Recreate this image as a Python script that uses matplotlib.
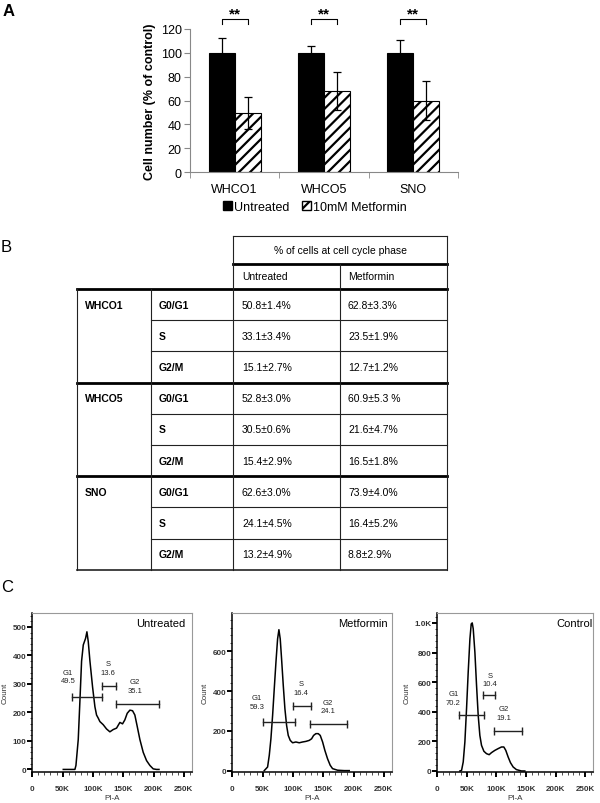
import matplotlib.pyplot as plt
from matplotlib.patches import Patch
from matplotlib.ticker import MultipleLocator, FixedLocator, FuncFormatter
import numpy as np

plt.rcParams['font.family'] = ['Liberation Sans', 'DejaVu Sans']
plt.rcParams['hatch.linewidth'] = 1.6

W, H = 600, 804


def box(l, t, r, b):
    # pixel box -> figure fraction
    return [l / W, 1 - b / H, (r - l) / W, (b - t) / H]


# ---- panel A data
cell_lines = ['WHCO1', 'WHCO5', 'SNO']
untreated = [100, 100, 100]
untreated_err = [12.5, 6, 11]
metformin = [49.5, 68, 60]
metformin_err = [13.5, 16, 16]

# ---- panel B data
phases = ['G0/G1', 'S', 'G2/M']
tab_untreated = [['50.8±1.4%', '33.1±3.4%', '15.1±2.7%'],
                 ['52.8±3.0%', '30.5±0.6%', '15.4±2.9%'],
                 ['62.6±3.0%', '24.1±4.5%', '13.2±4.9%']]
tab_metformin = [['62.8±3.3%', '23.5±1.9%', '12.7±1.2%'],
                 ['60.9±5.3 %', '21.6±4.7%', '16.5±1.8%'],
                 ['73.9±4.0%', '16.4±5.2%', '8.8±2.9%']]

# ---- panel C data (PI-A in thousands, counts)
pi_untr = [51.1, 70.3, 72.0, 75.8, 78.6, 81.3, 84.1, 87.9, 90.1, 92.3, 95.1, 99.5,
           103.3, 106.0, 108.8, 111.5, 117.0, 122.5, 128.0, 133.5, 139.0, 144.5,
           148.9, 152.7, 156.6, 161.0, 165.4, 169.2, 173.1, 177.5, 183.0, 188.5,
           194.0, 199.5, 204.9, 209.0]
cnt_untr = [0, 0, 14, 105, 243, 380, 437, 460, 483, 449, 380, 288, 220, 191, 180,
            168, 157, 142, 132, 140, 145, 165, 160, 174, 197, 208, 206, 191, 151,
            105, 60, 31, 14, 2, 0, 0]
pi_metf = [52.7, 58.2, 61.0, 63.7, 66.5, 69.2, 72.0, 74.7, 76.9, 79.1, 81.3, 84.1,
           86.8, 89.6, 92.3, 95.6, 99.5, 104.9, 110.4, 115.9, 121.4, 126.9, 130.8,
           134.1, 137.9, 141.8, 145.1, 149.0, 152.7, 157.1, 161.5, 165.4, 173.6,
           184.6, 192.9]
cnt_metf = [0, 18, 77, 160, 278, 411, 545, 662, 709, 662, 562, 428, 311, 227, 177,
            152, 140, 144, 140, 144, 147, 152, 160, 177, 186, 186, 177, 144, 102,
            60, 27, 10, 2, 0, 0]
pi_ctrl = [38.2, 41.0, 43.8, 46.6, 49.4, 52.2, 55.1, 57.3, 59.0, 60.7, 63.5, 66.3,
           69.1, 71.9, 74.7, 78.7, 83.1, 87.6, 91.6, 97.2, 102.8, 108.4, 112.4,
           115.7, 119.7, 123.6, 128.1, 133.7, 142.1, 147.8]
cnt_ctrl = [0, 4, 61, 196, 420, 667, 892, 993, 1000, 960, 802, 578, 375, 240, 173,
            133, 117, 110, 124, 139, 151, 162, 162, 139, 94, 56, 27, 9, 0, 0]

gate_names = ['G1', 'S', 'G2']
gate_pct = [['49.5', '13.6', '35.1'], ['59.3', '16.4', '24.1'], ['70.2', '10.4', '19.1']]
gate_lo = [[65.9, 114.3, 137.4], [50.0, 100.5, 128.0], [37.1, 77.5, 96.1]]
gate_hi = [[114.3, 137.9, 209.3], [103.8, 129.7, 188.5], [78.7, 98.3, 143.3]]
gate_y = [[254, 294, 229], [247, 324, 236], [380, 510, 270]]
gate_lx = [[59.3, 125.3, 169.2], [40.7, 113.2, 157.1], [27.0, 88.8, 112.4]]
gate_ly = [[326, 357, 292], [344, 415, 323], [493, 618, 389]]

fig = plt.figure(figsize=(6, 8.04), dpi=100)

# ================= A
axA = fig.add_axes(box(190, 30, 458, 173))
x = np.arange(len(cell_lines))
w = 0.29
ekw = dict(ecolor='black', elinewidth=0.9, capthick=0.9)
axA.bar(x - w / 2, untreated, w, color='black', edgecolor='black', lw=0.8,
        yerr=untreated_err, capsize=3, error_kw=ekw)
axA.bar(x + w / 2, metformin, w, color='white', edgecolor='black', lw=0.8,
        hatch='///', yerr=metformin_err, capsize=3, error_kw=ekw)
axA.set_xlim(-0.5, 2.5)
axA.set_ylim(0, 120)
axA.yaxis.set_major_locator(MultipleLocator(20))
axA.set_xticks(x)
axA.set_xticklabels(cell_lines, fontsize=9)
axA.xaxis.set_minor_locator(FixedLocator([-0.5, 0.5, 1.5, 2.5]))
axA.tick_params(axis='x', which='major', length=0, pad=8)
axA.tick_params(axis='x', which='minor', length=4, color='#888')
axA.tick_params(axis='y', length=4, color='#888', labelsize=9, pad=2)
for s in ['top', 'right']:
    axA.spines[s].set_visible(False)
for s in ['left', 'bottom']:
    axA.spines[s].set_color('#888')
axA.set_ylabel('Cell number (% of control)', fontsize=9, fontweight='bold', labelpad=3)
for i in x:
    axA.plot([i - w / 2, i - w / 2, i + w / 2, i + w / 2], [124, 128, 128, 124],
             color='black', lw=0.8, clip_on=False)
    axA.text(i, 133, '**', ha='center', va='center', fontsize=11, fontweight='bold')

handles = [Patch(facecolor='black', edgecolor='black', label='Untreated'),
           Patch(facecolor='white', edgecolor='black', hatch='///', label='10mM Metformin')]
fig.legend(handles=handles, loc='center', bbox_to_anchor=(315 / W, 1 - 208 / H),
           ncol=2, frameon=False, fontsize=9, handlelength=0.7, handleheight=0.7,
           handletextpad=0.2, columnspacing=1.0, borderpad=0)

fig.text(3 / W, 1 - 11 / H, 'A', fontsize=12, fontweight='bold', va='center')
fig.text(1 / W, 1 - 247 / H, 'B', fontsize=12, va='center')
fig.text(1 / W, 1 - 588 / H, 'C', fontsize=12, va='center')

# ================= B  (table drawn in pixel coordinates)
axT = fig.add_axes([0, 0, 1, 1], zorder=-1)
axT.set_xlim(0, W)
axT.set_ylim(H, 0)
axT.axis('off')
cols = [77, 151, 233, 340, 447]
top, h1, h2 = 237, 265, 290
rh = 31.2
bottom = h2 + 9 * rh
thin = dict(color='#222', lw=0.8)
thick = dict(color='black', lw=2)
axT.plot([cols[2], cols[4]], [top, top], **thin)
axT.plot([cols[2], cols[4]], [h1, h1], **thick)
axT.plot([cols[0], cols[4]], [h2, h2], **thick)
for k in range(1, 10):
    yk = h2 + k * rh
    if k == 9:
        axT.plot([cols[0], cols[4]], [yk, yk], color='#222', lw=1.2)
    elif k % 3 == 0:
        axT.plot([cols[0], cols[4]], [yk, yk], **thick)
    else:
        axT.plot([cols[1], cols[4]], [yk, yk], **thin)
axT.plot([cols[2], cols[2]], [top, bottom], **thin)
axT.plot([cols[4], cols[4]], [top, bottom], **thin)
axT.plot([cols[3], cols[3]], [h1, bottom], **thin)
axT.plot([cols[1], cols[1]], [h2, bottom], **thin)
axT.plot([cols[0], cols[0]], [h2, bottom], **thin)

fs = 7.5
axT.text((cols[2] + cols[4]) / 2, (top + h1) / 2, '% of cells at cell cycle phase',
         ha='center', va='center', fontsize=fs)
axT.text(cols[2] + 9, (h1 + h2) / 2, 'Untreated', va='center', fontsize=fs)
axT.text(cols[3] + 8, (h1 + h2) / 2, 'Metformin', va='center', fontsize=fs)
for g, name in enumerate(cell_lines):
    y0 = h2 + 3 * g * rh
    axT.text(cols[0] + 8, y0 + rh / 2, name, va='center', fontsize=fs, fontweight='bold')
    for p, ph in enumerate(phases):
        yc = y0 + (p + 0.5) * rh
        axT.text(cols[1] + 8, yc, ph, va='center', fontsize=fs, fontweight='bold')
        axT.text(cols[2] + 9, yc, tab_untreated[g][p], va='center', fontsize=fs)
        axT.text(cols[3] + 8, yc, tab_metformin[g][p], va='center', fontsize=fs)

# ================= C
hist_boxes = [(31.7, 614, 191.7, 773), (231.7, 614, 391.7, 773), (436.7, 614, 593, 773)]
hist_titles = ['Untreated', 'Metformin', 'Control']
title_x = [0.958, 0.977, 0.995]
ylims = [(-9, 549), (-7, 793), (-7, 1067)]
ymajor = [100, 200, 200]
yminor = [20, 40, 40]
ylab_x = [-0.142, -0.142, -0.168]
pis = [pi_untr, pi_metf, pi_ctrl]
cnts = [cnt_untr, cnt_metf, cnt_ctrl]

kfmt = FuncFormatter(lambda v, p: '0' if v == 0 else '%dK' % v)


def cfmt(v, p):
    if v >= 1000:
        return '%.1fK' % (v / 1000)
    return '%d' % v


for j in range(3):
    ax = fig.add_axes(box(*hist_boxes[j]))
    ax.plot(pis[j], cnts[j], color='black', lw=1.1)
    ax.set_xlim(-1, 263)
    ax.set_ylim(*ylims[j])
    ax.xaxis.set_major_locator(MultipleLocator(50))
    ax.xaxis.set_minor_locator(MultipleLocator(10))
    ax.yaxis.set_major_locator(MultipleLocator(ymajor[j]))
    ax.yaxis.set_minor_locator(MultipleLocator(yminor[j]))
    ax.xaxis.set_major_formatter(kfmt)
    ax.yaxis.set_major_formatter(FuncFormatter(cfmt))
    ax.tick_params(which='major', length=3.5, width=1.4, color='black')
    ax.tick_params(which='minor', length=1.8, width=0.6, color='#333')
    ax.tick_params(axis='x', which='major', labelsize=5.8, pad=6)
    ax.tick_params(axis='y', which='major', labelsize=5.8, pad=0.5)
    for lab in ax.get_xticklabels() + ax.get_yticklabels():
        lab.set_fontweight('bold')
        lab.set_color('#333')
    for s in ['top', 'right']:
        ax.spines[s].set_color('#999')
        ax.spines[s].set_linewidth(0.8)
    for s in ['left', 'bottom']:
        ax.spines[s].set_linewidth(1.1)
    ax.set_xlabel('PI-A', fontsize=5.8, color='#333')
    ax.xaxis.set_label_coords(0.5, -0.138)
    ax.set_ylabel('Count', fontsize=5.8, color='#333')
    ax.yaxis.set_label_coords(ylab_x[j], 0.5)
    ax.text(title_x[j], 0.937, hist_titles[j], transform=ax.transAxes,
            ha='right', va='center', fontsize=8)
    for g in range(3):
        ax.plot([gate_lo[j][g], gate_hi[j][g]], [gate_y[j][g], gate_y[j][g]],
                color='#222', lw=1.0, marker='|', ms=6, mew=1.0)
        ax.text(gate_lx[j][g], gate_ly[j][g], gate_names[g] + '\n' + gate_pct[j][g],
                ha='center', va='center', fontsize=5.5, linespacing=1.35, color='#222')

fig.savefig('out.png', dpi=100)
